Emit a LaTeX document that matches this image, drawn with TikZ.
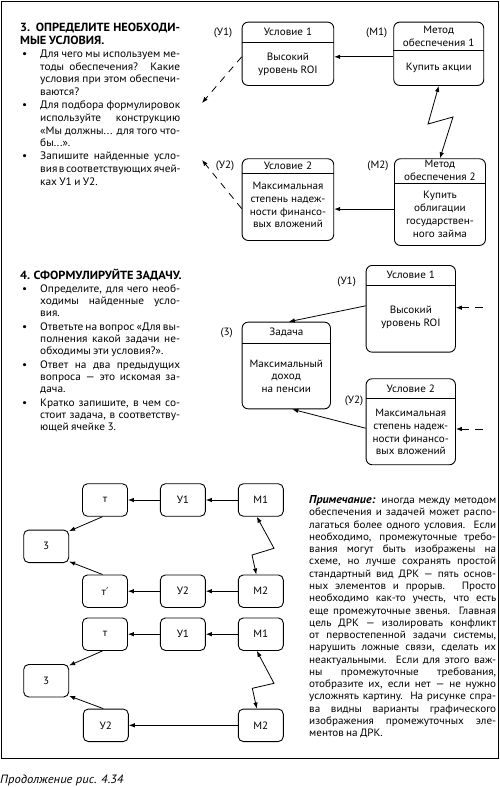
\documentclass[tikz,border=0pt]{standalone}
\usepackage{fontspec}
\setmainfont{PT Sans}[FakeStretch=1.05]
\newfontfamily\primefont{DejaVu Sans}
\usetikzlibrary{arrows.meta, calc, positioning}

% lines of a justified column
\newcommand\row[1]{\hbox to\hsize{#1}}
\newcommand\lastrow[1]{\hbox{#1}}
\newcommand\bul{\llap{\textbullet\hspace{13pt}}}
\newcommand\tightspace{\spaceskip=.22em plus .6em minus .08em\relax}

% box with a title row: name, top left, width, height, title height, title, text
\newcommand\drkcell[7]{%
  \node[cell, anchor=north west, minimum width=#3pt, minimum height=#4pt] (#1) at #2 {};
  \node[cellhead, minimum height=#5pt, anchor=north] (#1h) at (#1.north) {#6};
  \draw[line width=0.9pt] (#1h.south -| #1.west) -- (#1h.south -| #1.east);
  \node[celltext] (#1b) at ($(#1h.south)!.5!(#1.south)$) {#7};
}

\tikzset{
  cell/.style={draw, line width=0.9pt, rounded corners=6pt, inner sep=0pt},
  cellhead/.style={inner sep=0pt, align=center},
  celltext/.style={inner sep=0pt, align=center},
  tag/.style={inner sep=0pt},
  mini/.style={draw, line width=0.9pt, rounded corners=5pt, minimum width=45pt, minimum height=32.5pt, inner sep=0pt},
  flow/.style={line width=0.8pt, -{Latex[length=6pt,width=4.5pt]}},
  bolt/.style={line width=0.8pt, {Latex[length=6pt,width=4.5pt]}-{Latex[length=6pt,width=4.5pt]}},
  hint/.style={line width=0.8pt, dash pattern=on 7pt off 6pt, -{Latex[length=6pt,width=4.5pt]}},
  column/.style={inner sep=0pt, anchor=north west},
}

\begin{document}
\begin{tikzpicture}[x=1pt, y=-1pt, font=\fontsize{10.6pt}{12.8pt}\selectfont]
\useasboundingbox (0,0) rectangle (500,787);
\draw[line width=1pt] (1.5,1.5) rectangle (498.5,758.5);

% section 3
\node[column] (sec3) at (40,23) {\vbox{\hsize=140pt \fontsize{10.8pt}{12.8pt}\selectfont\tightspace
  \row{\hskip-20pt\fontsize{11.8pt}{12.8pt}\selectfont\bfseries 3. ОПРЕДЕЛИТЕ НЕОБХОДИ-}
  \lastrow{\hskip-20pt\fontsize{11.8pt}{12.8pt}\selectfont\bfseries МЫЕ УСЛОВИЯ.}
  \row{\bul Для чего мы используем ме-}
  \row{тоды обеспечения? Какие}
  \row{условия при этом обеспечи-}
  \lastrow{ваются?}
  \row{\bul Для подбора формулировок}
  \row{используйте конструкцию}
  \row{«Мы должны... для того что-}
  \lastrow{бы...».}
  \row{\bul Запишите найденные усло-}
  \row{вия в соответствующих ячей-}
  \lastrow{ках У1 и У2.}}};

% section 3, the boxes
\drkcell{u1t}{(241.7,21.7)}{91.6}{63.3}{20}{Условие 1}{Высокий\\уровень ROI}
\drkcell{m1t}{(393.3,21.7)}{90}{63.3}{28.3}{Метод\\обеспечения 1}{Купить акции}
\drkcell{u2t}{(241.7,158.3)}{91.6}{81.7}{15}{Условие 2}{Максимальная\\степень надеж-\\ности финансо-\\вых вложений\\[-8pt]}
\drkcell{m2t}{(394,158.3)}{91}{86.7}{24.4}{Метод\\обеспечения 2}{Купить\\облигации\\государствен-\\ного займа}
\node[tag] (lu1t) at (223,33) {(У1)};
\node[tag] (lm1t) at (376.7,33) {(М1)};
\node[tag] (lu2t) at (225,166) {(У2)};
\node[tag] (lm2t) at (378,166) {(М2)};

\draw[flow] ([yshift=-3pt]m1t.west) -- ([yshift=-3pt]m1t.west -| u1t.east);
\draw[flow] ([yshift=-7pt]m2t.west) -- ([yshift=-7pt]m2t.west -| u2t.east);
\draw[bolt] (m1t.south) -- (428,124) -- (453,117) -- (m2t.north);
\coordinate (d1) at (202,103);
\coordinate (d2) at (202,160);
\draw[hint] ([yshift=-3pt]u1t.west) -- (d1);
\draw[hint] ([yshift=-9pt]u2t.west) -- (d2);

% section 4
\node[column] (sec4) at (40,268.5) {\vbox{\hsize=140pt \fontsize{10.8pt}{12.3pt}\selectfont\tightspace
  \lastrow{\hskip-20pt\fontsize{11.8pt}{12.3pt}\selectfont\bfseries 4. СФОРМУЛИРУЙТЕ ЗАДАЧУ.}
  \vskip1pt
  \row{\bul Определите, для чего необ-}
  \row{ходимы найденные усло-}
  \lastrow{вия.}
  \vskip1pt
  \row{\bul Ответьте на вопрос «Для вы-}
  \row{полнения какой задачи не-}
  \lastrow{обходимы эти условия?».}
  \vskip1pt
  \row{\bul Ответ на два предыдущих}
  \row{вопроса — это искомая за-}
  \lastrow{дача.}
  \vskip1pt
  \row{\bul Кратко запишите, в чем со-}
  \row{стоит задача, в соответству-}
  \lastrow{ющей ячейке 3.}}};

% section 4, the boxes
\drkcell{u1m}{(365.7,265)}{89.3}{86.7}{20}{Условие 1}{Высокий\\уровень ROI\\[-8pt]}
\drkcell{zm}{(241.7,321.7)}{88.3}{86.7}{21}{Задача}{Максимальный\\доход\\на пенсии}
\drkcell{u2m}{(365.7,378.3)}{89.3}{86}{20}{Условие 2}{Максимальная\\степень надеж-\\ности финансо-\\вых вложений}
\node[tag] (lu1m) at (346.7,281.7) {(У1)};
\node[tag] (lzm) at (226.7,332.7) {(3)};
\node[tag] (lu2m) at (354,400.7) {(У2)};

\draw[flow] ([yshift=3pt]u1m.west) -- ([xshift=2.5pt]zm.north);
\draw[flow] ([yshift=-6.5pt]u2m.west) -- ([xshift=6pt]zm.south);
\coordinate (r1) at (483,307.7);
\coordinate (r2) at (483,429);
\draw[hint, dash pattern=on 8pt off 6pt] (r1) -- (r1 -| u1m.east);
\draw[hint, dash pattern=on 8pt off 6pt] (r2) -- (r2 -| u2m.east);

% variants with extra links
\node[mini] (mA) at (260.8,500) {М1};
\node[mini, left=32pt of mA] (uA) {У1};
\node[mini, left=32pt of uA] (tA) {т};
\node[mini] (mB) at (260.8,591.2) {М2};
\node[mini, left=32pt of mB] (uB) {У2};
\node[mini, left=32pt of uB] (tB) {т{\primefont ′}};
\node[mini] (zA) at (46.2,546.3) {3};
\draw[flow] (mA) -- (uA);
\draw[flow] (uA) -- (tA);
\draw[flow] (mB) -- (uB);
\draw[flow] (uB) -- (tB);
\draw[flow] ([xshift=-2.5pt]tA.south) -- ([yshift=-1.5pt]zA.north east);
\draw[flow] ([xshift=-2.5pt]tB.north) -- ([yshift=1.5pt]zA.south east);
\draw[bolt] ([xshift=-4pt]mA.south) -- (274,548.3) -- (252,555) -- ([xshift=-4.5pt]mB.north);

\node[mini] (mC) at (260.8,634.2) {М1};
\node[mini, left=32pt of mC] (uC) {У1};
\node[mini, left=32pt of uC] (tC) {т};
\node[mini] (mD) at (260.8,725.3) {М2};
\node[mini] (uD) at (105.8,725.3) {У2};
\node[mini] (zC) at (46.2,680.7) {3};
\draw[flow] (mC) -- (uC);
\draw[flow] (uC) -- (tC);
\draw[flow] (mD) -- (uD);
\draw[flow] ([xshift=-2.5pt]tC.south) -- ([yshift=-1.5pt]zC.north east);
\draw[flow] ([xshift=-2.5pt]uD.north) -- ([yshift=1.5pt]zC.south east);
\draw[bolt] ([xshift=-4pt]mC.south) -- (274,683.3) -- (252.3,688.3) -- ([xshift=-4pt]mD.north);

% note
\node[column] (note) at (309,495.5) {\vbox{\hsize=187pt \fontsize{10.6pt}{12.26pt}\selectfont\tightspace
  \row{{\fontsize{11.4pt}{12.26pt}\selectfont\bfseries\itshape Примечание:} иногда между методом}
  \row{обеспечения и задачей может распо-}
  \row{лагаться более одного условия. Если}
  \row{необходимо, промежуточные требо-}
  \row{вания могут быть изображены на}
  \row{схеме, но лучше сохранять простой}
  \row{стандартный вид ДРК — пять основ-}
  \row{ных элементов и прорыв. Просто}
  \row{необходимо как-то учесть, что есть}
  \row{еще промежуточные звенья. Главная}
  \row{цель ДРК — изолировать конфликт}
  \row{от первостепенной задачи системы,}
  \row{нарушить ложные связи, сделать их}
  \row{неактуальными. Если для этого важ-}
  \row{ны промежуточные требования,}
  \row{отобразите их, если нет — не нужно}
  \row{усложнять картину. На рисунке спра-}
  \row{ва видны варианты графического}
  \row{изображения промежуточных эле-}
  \lastrow{ментов на ДРК.}}};

\node[anchor=west, inner sep=0pt, font=\fontsize{12pt}{14pt}\selectfont\itshape] (caption) at (0,780) {Продолжение рис. 4.34};
\end{tikzpicture}
\end{document}
